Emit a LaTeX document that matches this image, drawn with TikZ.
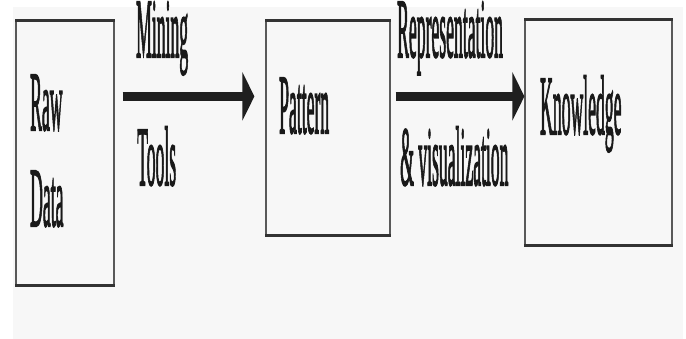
\documentclass[tikz,border=0pt]{standalone}
\usepackage{fontspec}
\usepackage{graphicx}
\setmainfont{Liberation Serif}
\newfontfamily\boxfont[FakeBold=2.5]{Liberation Serif}
\usetikzlibrary{arrows.meta}
\newcommand{\sqz}[1]{\scalebox{0.21}[1]{\fontsize{84}{96}\boxfont #1}}
\tikzset{
  boxnode/.style={draw=black!65, line width=1.2pt, inner sep=0pt},
  rim/.style={draw=black!80, line width=3.5pt},
  lbl/.style={anchor=base west, inner sep=0pt, text=black!90, text height=56pt, text depth=18pt},
  flow/.style={draw=black!88, line width=9pt, -{Triangle[length=12pt,width=48pt]}}
}
\begin{document}
\begin{tikzpicture}[x=1pt,y=1pt]
\useasboundingbox (0,0) rectangle (686,339);
\fill[white] (0,0) rectangle (686,339);
\fill[black!3] (13,0) rectangle (683,332);
% boxes
\node[boxnode, minimum width=98pt, minimum height=264pt] (b1) at (65,186) {};
\node[boxnode, minimum width=124pt, minimum height=214pt] (b2) at (328,211) {};
\node[boxnode, minimum width=147pt, minimum height=225pt] (b3) at (598.5,206.5) {};
\foreach \b in {b1,b2,b3}{
  \draw[rim] (\b.north west) -- (\b.north east);
  \draw[rim] (\b.south west) -- (\b.south east);
}
% box texts
\node[lbl] (raw) at (30,209) {\sqz{Raw}};
\node[lbl] (data) at (30,113) {\sqz{Data}};
\node[lbl] (pat) at (279,206) {\sqz{Pattern}};
\node[lbl] (know) at (540,205) {\sqz{Knowledge}};
% arrows
\draw[flow] ([xshift=8pt,yshift=-76pt]b1.north east) -- ([xshift=-11pt,yshift=-76pt]b2.north west);
\draw[flow] ([xshift=5pt,yshift=-76pt]b2.north east) -- ([xshift=0pt,yshift=-77pt]b3.north west);
% arrow labels
\node[lbl] (mining) at (136,282) {\sqz{Mining}};
\node[lbl] (tools) at (137,154) {\sqz{Tools}};
\node[lbl] (rep) at (397,282) {\sqz{Representation}};
\node[lbl] (vis) at (400,154) {\sqz{\& visualization}};
\end{tikzpicture}
\end{document}
